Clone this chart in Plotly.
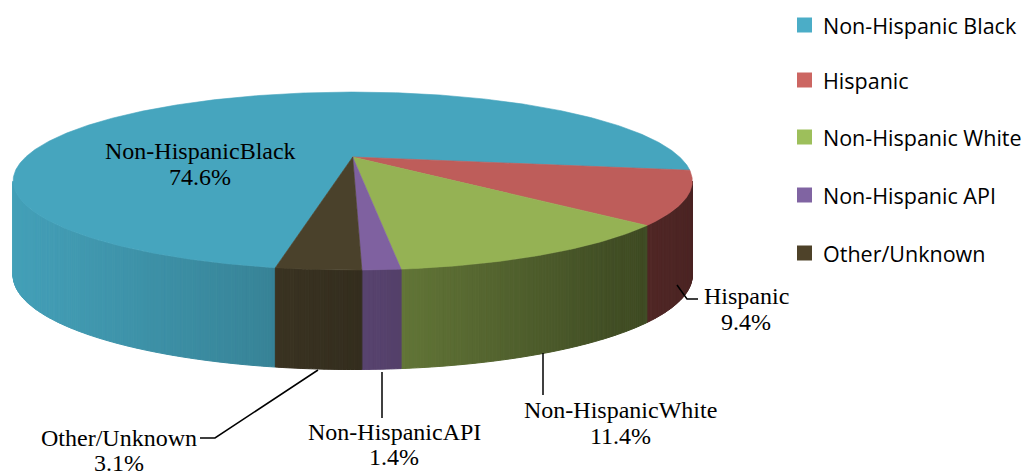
import numpy as np
import plotly.graph_objects as go

# Share of cases by race/ethnicity (percent)
categories = ["Non-Hispanic Black", "Hispanic", "Non-Hispanic White",
              "Non-Hispanic API", "Other/Unknown"]
shares = [74.6, 9.4, 11.4, 1.4, 3.1]
label_names = ["Non-HispanicBlack", "Hispanic", "Non-HispanicWhite",
               "Non-HispanicAPI", "Other/Unknown"]
pct_labels = [f"{v:.1f}%" for v in shares]

top_colors = ["#46A5BE", "#BE5D5A", "#95B254", "#7F61A0", "#4A412B"]
key_colors = ["#4BADC7", "#CC6662", "#9DBF5B", "#8064A2", "#4E4229"]

W, H = 1036, 475

# 3-D pie geometry (pixel space, perspective view of a disc)
CX, CY = 352.7, 157.0          # projected centre of the disc
RX, RY, PERSP = 327.0, 82.5, 0.27
START = 190.0                  # first slice starts here (deg, clockwise from far side)


def project(theta):
    t = np.radians(theta)
    u, v = np.sin(t), np.cos(t)
    den = 1.0 + PERSP * v
    return CX + RX * u / den, CY - RY * v / den


def thickness(theta):
    return 92.0 + 7.5 * (-np.cos(np.radians(theta)))


def shade(hex_color, f):
    h = hex_color.lstrip("#")
    r, g, b = (int(h[i:i + 2], 16) for i in (0, 2, 4))
    return "rgb({},{},{})".format(int(r * f), int(g * f), int(b * f))


def side_factor(x):
    return float(np.interp(x, [14, 255, 615, 692], [0.97, 0.81, 0.44, 0.40]))


total = sum(shares)
spans = [s / total * 360.0 for s in shares]
bounds = []
a = START
for sp in spans:
    bounds.append((a, a + sp))
    a += sp

half = np.degrees(np.arccos(PERSP))
vis_lo, vis_hi = 180.0 - half, 180.0 + half

fig = go.Figure()

# Outer rim (front-facing part only), split into thin strips for shading
for (a0, a1), col in zip(bounds, top_colors):
    for k in (-1, 0, 1):
        lo = max(a0, vis_lo + 360 * k)
        hi = min(a1, vis_hi + 360 * k)
        if hi <= lo:
            continue
        n = int(np.ceil((hi - lo) / 0.5))
        edges = np.linspace(lo, hi, n + 1)
        for t0, t1 in zip(edges[:-1], edges[1:]):
            ts = np.linspace(t0, t1, 3)
            xt, yt = project(ts)
            yb = yt + thickness(ts)
            xs = np.concatenate([xt, xt[::-1], xt[:1]])
            ys = np.concatenate([yt, yb[::-1], yt[:1]])
            c = shade(col, side_factor(float(np.mean(xt))))
            fig.add_trace(go.Scatter(
                x=xs, y=ys, mode="lines", fill="toself", fillcolor=c,
                line=dict(color=c, width=1.0), hoverinfo="skip",
                showlegend=False))

# Top faces of the slices
for (a0, a1), col, name, val in zip(bounds, top_colors, categories, shares):
    ts = np.linspace(a0, a1, max(8, int((a1 - a0) / 0.5)))
    xa, ya = project(ts)
    xs = np.concatenate([[CX], xa, [CX]])
    ys = np.concatenate([[CY], ya, [CY]])
    fig.add_trace(go.Scatter(
        x=xs, y=ys, mode="lines", fill="toself", fillcolor=col,
        line=dict(color=col, width=0.6), name=name,
        hovertemplate=f"{name}: {val}%<extra></extra>", showlegend=False))

# Data labels (name line, percent line) and leader lines
label_font = dict(family="Liberation Serif", size=24, color="black")
label_pos = [(200, 151, 177), (746, 296, 322), (620, 410, 436),
             (394, 432, 457), (119, 438, 463)]
for name, pct, (lx, y1, y2) in zip(label_names, pct_labels, label_pos):
    fig.add_annotation(x=lx, y=y1, text=name, showarrow=False,
                       xanchor="center", yanchor="middle", font=label_font)
    fig.add_annotation(x=lx, y=y2, text=pct, showarrow=False,
                       xanchor="center", yanchor="middle", font=label_font)

leaders = [
    [(677, 285), (687, 299), (698, 299)],
    [(543, 353), (543, 395)],
    [(382, 372), (382, 418)],
    [(318, 370), (215, 438), (200, 438)],
]
for pts in leaders:
    path = "M " + " L ".join(f"{x},{y}" for x, y in pts)
    fig.add_shape(type="path", path=path, xref="x", yref="y",
                  line=dict(color="black", width=1.5))

# Legend
legend_rows = [25, 80, 137, 195, 253]
for name, col, ly in zip(categories, key_colors, legend_rows):
    fig.add_shape(type="rect", xref="x", yref="y", x0=797, x1=812,
                  y0=ly - 7.5, y1=ly + 7.5, fillcolor=col, line=dict(width=0))
    fig.add_annotation(x=821, y=ly, text=name, showarrow=False,
                       xanchor="left", yanchor="middle",
                       font=dict(family="Open Sans", size=21.5, color="black"))

fig.update_layout(
    width=W, height=H, margin=dict(l=0, r=0, t=0, b=0),
    paper_bgcolor="white", plot_bgcolor="white",
    xaxis=dict(range=[0, W], visible=False, fixedrange=True),
    yaxis=dict(range=[H, 0], visible=False, fixedrange=True),
    showlegend=False,
)

fig.write_html("out.html")
